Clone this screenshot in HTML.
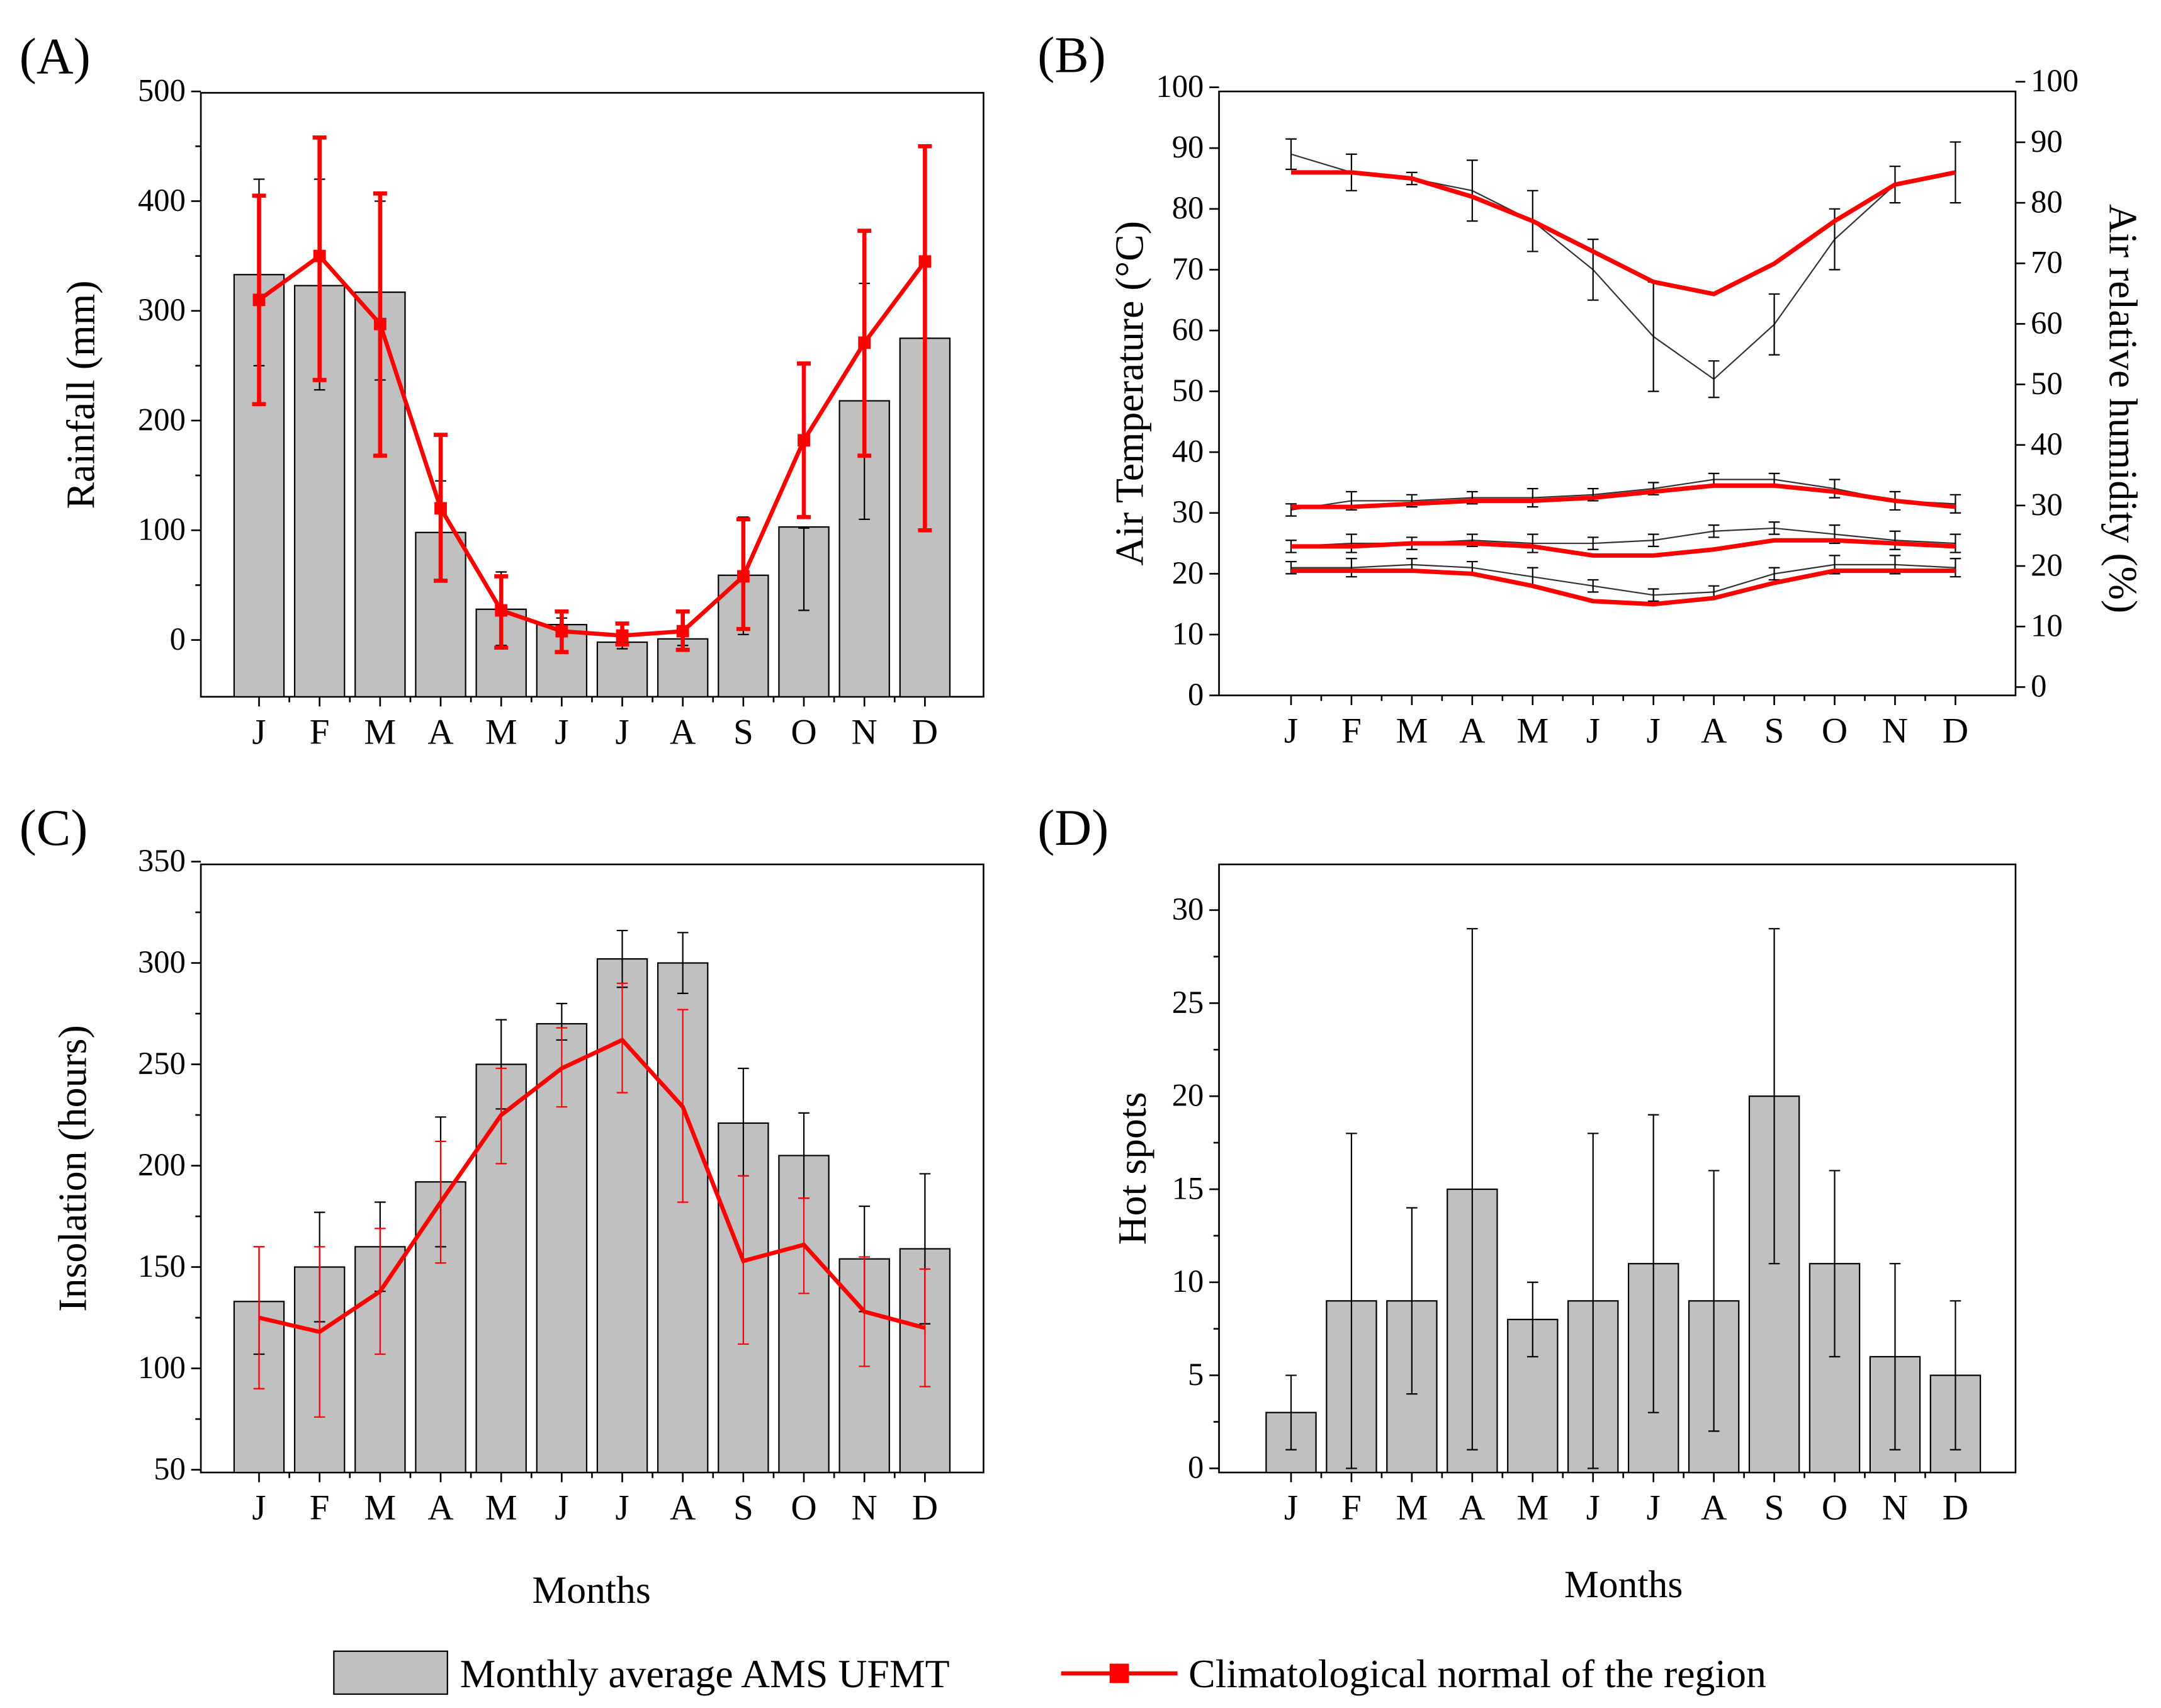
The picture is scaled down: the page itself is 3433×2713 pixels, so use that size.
<!DOCTYPE html>
<html><head><meta charset="utf-8"><style>
html,body{margin:0;padding:0;background:#fff;}
svg{display:block;font-family:"Liberation Serif",serif;}
</style></head><body>
<svg id="s" width="3433" height="2713" viewBox="0 0 1560 1233" preserveAspectRatio="none" xmlns="http://www.w3.org/2000/svg"></svg>
<script>
const months=["J","F","M","A","M","J","J","A","S","O","N","D"];
// Panel A rainfall
const rainBar=[333,323,317,98,28,14,-2,1,59,103,218,275];
const rainBarHi=[420,420,400,145,62,20,5,8,112,102,325,275];
const rainBarLo=[250,228,237,55,-5,8,-8,-5,5,27,110,100];
const rainNorm=[310,350,288,120,27,8,4,8,58,182,271,345];
const rainNormHi=[405,458,407,187,58,26,15,26,110,252,373,450];
const rainNormLo=[215,237,168,54,-7,-11,-4,-9,10,112,168,100];
// Panel B
const humObs=[89,86,85,83,78,70,59,52,61,75,84,86];
const humObsErr=[2.5,3,1,5,5,5,9,3,5,5,3,5];
const humNorm=[86,86,85,82,78,73,68,66,71,78,84,86];
const tmaxObs=[30.5,32,32,32.5,32.5,33,34,35.5,35.5,34,32,31.5];
const tmaxNorm=[31,31,31.5,32,32,32.5,33.5,34.5,34.5,33.5,32,31];
const tmeanObs=[24.5,25,25,25.5,25,25,25.5,27,27.5,26.5,25.5,25];
const tmeanNorm=[24.5,24.5,25,25,24.5,23,23,24,25.5,25.5,25,24.5];
const tminObs=[21,21,21.5,21,19.5,18,16.5,17,20,21.5,21.5,21];
const tminNorm=[20.5,20.5,20.5,20,18,15.5,15,16,18.5,20.5,20.5,20.5];
const tErr=[1,1.5,1,1,1.5,1,1,1,1,1.5,1.5,1.5];
// Panel C insolation
const insBar=[133,150,160,192,250,270,302,300,221,205,154,159];
const insBarHi=[160,177,182,224,272,280,316,315,248,226,180,196];
const insBarLo=[107,123,138,160,228,262,288,285,195,184,128,122];
const insNorm=[125,118,138,182,225,248,262,229,153,161,128,120];
const insNormHi=[160,160,169,212,248,268,290,277,195,184,155,149];
const insNormLo=[90,76,107,152,201,229,236,182,112,137,101,91];
// Panel D hot spots
const hot=[3,9,9,15,8,9,11,9,20,11,6,5];
const hotHi=[5,18,14,29,10,18,19,16,29,16,11,9];
const hotLo=[1,0,4,1,6,0,3,2,11,6,1,1];

const S=document.getElementById('s');const NS="http://www.w3.org/2000/svg";
function el(t,a,p,name,txt){const e=document.createElementNS(NS,t);for(const k in a)e.setAttribute(k,a[k]);


if(txt!==undefined)e.textContent=txt;(p||S).appendChild(e);return e;}

function panel(o){
  const g=el('g',{},S,o.name);
  const y=v=>o.y0+(v-o.vmin)*(o.y1-o.y0)/(o.vmax-o.vmin);
  const x=i=>o.xs+i*o.dx;
  el('rect',{x:o.bx0,y:o.by0,width:o.bx1-o.bx0,height:o.by1-o.by0,fill:'none',stroke:'#000','stroke-width':1.2},g,'plot-frame');
  o.ticks.forEach(t=>{const yy=y(t);
    el('line',{x1:o.bx0-7,x2:o.bx0,y1:yy,y2:yy,stroke:'#000','stroke-width':1.2},g,'y-tick');
    el('text',{x:o.bx0-11,y:yy+7,'text-anchor':'end','font-size':23},g,'y-tick-label',String(t));});
  if(o.minor)o.minor.forEach(t=>{const yy=y(t);el('line',{x1:o.bx0-4,x2:o.bx0,y1:yy,y2:yy,stroke:'#000','stroke-width':1.2},g,'y-minor-tick');});
  months.forEach((m,i)=>{el('line',{x1:x(i),x2:x(i),y1:o.by1,y2:o.by1+7,stroke:'#000','stroke-width':1.2},g,'x-tick');
    if(i<11)el('line',{x1:x(i)+o.dx/2,x2:x(i)+o.dx/2,y1:o.by1,y2:o.by1+4,stroke:'#000','stroke-width':1.2},g,'x-minor-tick');
    el('text',{x:x(i),y:o.by1+34,'text-anchor':'middle','font-size':26},g,'x-tick-label',m);});
  el('text',{x:o.bx0-131,y:o.by0-14,'font-size':37},g,'panel-label',o.label);
  const tx=o.titleX,ty=(o.by0+o.by1)/2;
  el('text',{x:tx,y:ty,'text-anchor':'middle','font-size':29,transform:`rotate(-90 ${tx} ${ty})`},g,'y-axis-title',o.title);
  return {g,x,y};
}
function errBar(g,xx,y1,y2,col,w,cap,name){
  el('line',{x1:xx,x2:xx,y1:y1,y2:y2,stroke:col,'stroke-width':w},g,name);
  el('line',{x1:xx-cap,x2:xx+cap,y1:y1,y2:y1,stroke:col,'stroke-width':w},g,name+'-cap');
  el('line',{x1:xx-cap,x2:xx+cap,y1:y2,y2:y2,stroke:col,'stroke-width':w},g,name+'-cap');
}
function bars(P,vals,hi,lo,bottom,bw){
  vals.forEach((v,i)=>{el('rect',{x:P.x(i)-bw/2,y:P.y(v),width:bw,height:bottom-P.y(v),fill:'#c0c0c0',stroke:'#000','stroke-width':1},P.g,'bar-'+months[i]+i);});
  vals.forEach((v,i)=>errBar(P.g,P.x(i),P.y(hi[i]),P.y(lo[i]),'#000',1,4,'bar-error'));
}
function line(P,vals,col,w,name,mk){
  el('polyline',{points:vals.map((v,i)=>P.x(i)+','+P.y(v)).join(' '),fill:'none',stroke:col,'stroke-width':w},P.g,name);
  if(mk)vals.forEach((v,i)=>el('rect',{x:P.x(i)-4.5,y:P.y(v)-4.5,width:9,height:9,fill:col},P.g,name+'-marker'));
}

// A
let A=panel({name:'panel-a-rainfall',label:'(A)',title:'Rainfall (mm)',titleX:68,bx0:145,bx1:710,by0:67,by1:503,y0:462,y1:66,vmin:0,vmax:500,
  ticks:[0,100,200,300,400,500],minor:[50,150,250,350,450],xs:187,dx:43.7});
bars(A,rainBar,rainBarHi,rainBarLo,503,36);
line(A,rainNorm,'#ff0000',3,'rain-normal-line',true);
rainNorm.forEach((v,i)=>errBar(A.g,A.x(i),A.y(rainNormHi[i]),A.y(rainNormLo[i]),'#ff0000',3,5,'rain-normal-error'));

// B
let B=panel({name:'panel-b-temp-humidity',label:'(B)',title:'Air Temperature (°C)',titleX:825,bx0:880,bx1:1455,by0:66,by1:502,y0:502,y1:63,vmin:0,vmax:100,
  ticks:[0,10,20,30,40,50,60,70,80,90,100],xs:932,dx:43.6});
[0,10,20,30,40,50,60,70,80,90,100].forEach(t=>{const yy=496-t*4.37;
  el('line',{x1:1455,x2:1462,y1:yy,y2:yy,stroke:'#000','stroke-width':1.2},B.g,'right-y-tick');
  el('text',{x:1466,y:yy+7,'font-size':23},B.g,'right-y-tick-label',String(t));});
el('text',{x:1523,y:295,'text-anchor':'middle','font-size':29,transform:'rotate(90 1523 295)'},B.g,'right-y-axis-title','Air relative humidity (%)');
[[humObs,humObsErr],[tmaxObs,tErr],[tmeanObs,tErr],[tminObs,tErr]].forEach(([v,e],k)=>{
  line(B,v,'#333',1,'observed-line-'+k,false);
  v.forEach((d,i)=>errBar(B.g,B.x(i),B.y(d+e[i]),B.y(d-e[i]),'#000',1,4,'observed-error'));});
[humNorm,tmaxNorm,tmeanNorm,tminNorm].forEach((v,k)=>line(B,v,'#ff0000',3.2,'normal-line-'+k,false));

// C
let C=panel({name:'panel-c-insolation',label:'(C)',title:'Insolation (hours)',titleX:62,bx0:145,bx1:710,by0:624,by1:1063,y0:1061,y1:622,vmin:50,vmax:350,
  ticks:[50,100,150,200,250,300,350],minor:[75,125,175,225,275,325],xs:187,dx:43.7});
bars(C,insBar,insBarHi,insBarLo,1063,36);
line(C,insNorm,'#ff0000',3,'insolation-normal-line',false);
insNorm.forEach((v,i)=>errBar(C.g,C.x(i),C.y(insNormHi[i]),C.y(insNormLo[i]),'#ff0000',1,4,'insolation-normal-error'));
el('text',{x:427,y:1157,'text-anchor':'middle','font-size':28},C.g,'x-axis-title','Months');

// D
let D=panel({name:'panel-d-hotspots',label:'(D)',title:'Hot spots',titleX:827,bx0:880,bx1:1455,by0:624,by1:1063,y0:1060,y1:657,vmin:0,vmax:30,
  ticks:[0,5,10,15,20,25,30],minor:[2.5,7.5,12.5,17.5,22.5,27.5],xs:932,dx:43.6});
bars(D,hot,hotHi,hotLo,1063,36);
el('text',{x:1172,y:1153,'text-anchor':'middle','font-size':28},D.g,'x-axis-title','Months');

// Legend
const L=el('g',{},S,'legend');
el('rect',{x:241,y:1192,width:82,height:31,fill:'#c0c0c0',stroke:'#000','stroke-width':1},L,'legend-swatch-bars');
el('text',{x:332,y:1218,'font-size':29},L,'legend-label-bars','Monthly average AMS UFMT');
el('line',{x1:766,x2:850,y1:1208,y2:1208,stroke:'#ff0000','stroke-width':3},L,'legend-swatch-line');
el('rect',{x:801,y:1201,width:14,height:14,fill:'#ff0000'},L,'legend-swatch-marker');
el('text',{x:858,y:1218,'font-size':29},L,'legend-label-line','Climatological normal of the region');
</script>
</body></html>
